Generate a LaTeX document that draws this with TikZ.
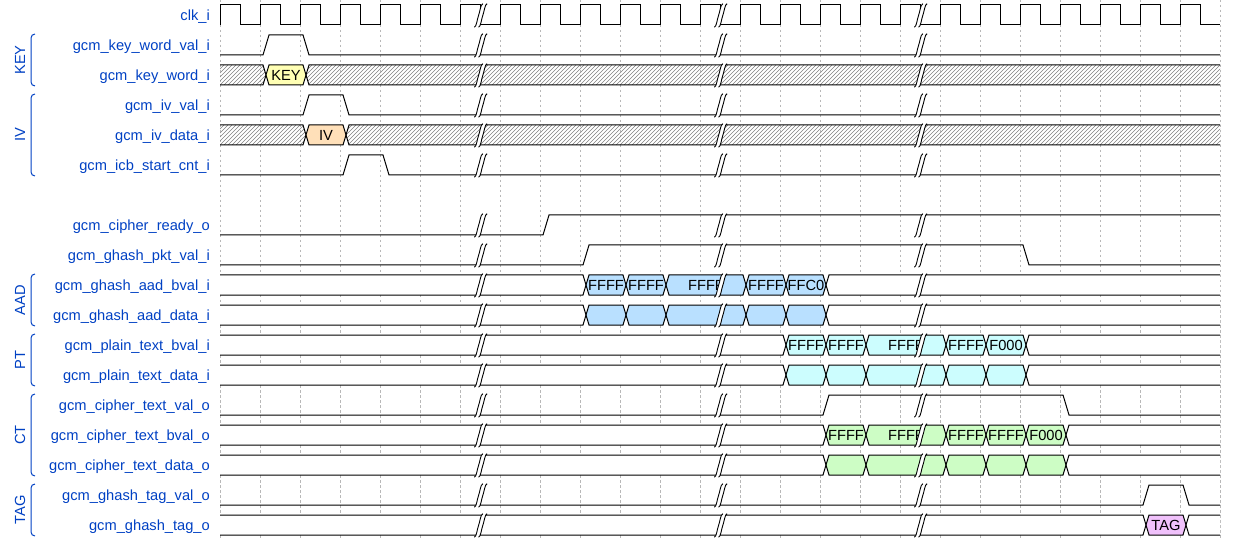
\documentclass[tikz,border=0pt]{standalone}
\usepackage{fontspec}
\setmainfont{Liberation Sans}
\definecolor{lblue}{HTML}{0041C4}
\definecolor{cyel}{HTML}{FFFFB4}
\definecolor{corg}{HTML}{FFE0B9}
\definecolor{cblu}{HTML}{B9E0FF}
\definecolor{ccya}{HTML}{CCFDFE}
\definecolor{cgrn}{HTML}{CDFDC5}
\definecolor{cpnk}{HTML}{F0C1FB}
\tikzset{
  wave/.style={draw=black, line width=1pt, line join=miter},
  gridline/.style={draw=black!28, line width=0.7pt, dash pattern=on 2.5pt off 2.5pt},
  siglabel/.style={anchor=base east, inner sep=0pt, text=lblue, font=\fontsize{14.67}{16}\selectfont},
  buslabel/.style={anchor=base, inner sep=0pt, text=black, font=\fontsize{14.67}{16}\selectfont},
  grouplabel/.style={rotate=90, inner sep=0pt, text=lblue, font=\fontsize{14.67}{16}\selectfont},
  bracket/.style={draw=lblue, line width=1pt, rounded corners=4pt},
  hatchline/.style={draw=black!50, line width=0.6pt},
  gapline/.style={draw=black, line width=0.9pt},
}
% bus cell between boundaries #2 and #3, row top #1
\newcommand\wvCell[5]{%
  \path[fill=#4] (#2+6,#1+10) -- (#2+9,#1) -- (#3+3,#1) -- (#3+6,#1+10) -- (#3+3,#1+20) -- (#2+9,#1+20) -- cycle;
  \path[wave] (#2+6,#1+10) -- (#2+9,#1) -- (#3+3,#1) -- (#3+6,#1+10) -- (#3+3,#1+20) -- (#2+9,#1+20) -- cycle;
  \node[buslabel] (bl-#1-#2) at ({(#2+#3)/2+6},#1+15.5) {#5};
}
\newcommand\wvStart[3]{%
  \path[fill=#3] (220,#1) -- (#2+3,#1) -- (#2+6,#1+10) -- (#2+3,#1+20) -- (220,#1+20) -- cycle;
  \path[wave] (220,#1) -- (#2+3,#1) -- (#2+6,#1+10) -- (#2+3,#1+20) -- (220,#1+20);
}
\newcommand\wvEnd[3]{%
  \path[fill=#3] (#2+6,#1+10) -- (#2+9,#1) -- (1220,#1) -- (1220,#1+20) -- (#2+9,#1+20) -- cycle;
  \path[wave] (1220,#1) -- (#2+9,#1) -- (#2+6,#1+10) -- (#2+9,#1+20) -- (1220,#1+20);
}
\newcommand\wvHatchStart[2]{%
  \begin{scope}
    \clip (220,#1) -- (#2+3,#1) -- (#2+6,#1+10) -- (#2+3,#1+20) -- (220,#1+20) -- cycle;
    \draw[hatchline] \foreach \q in {196,200,...,1224} {(\q,#1+20) -- (\q+20,#1)};
  \end{scope}
  \path[wave] (220,#1) -- (#2+3,#1) -- (#2+6,#1+10) -- (#2+3,#1+20) -- (220,#1+20);
}
\newcommand\wvHatchEnd[2]{%
  \begin{scope}
    \clip (#2+6,#1+10) -- (#2+9,#1) -- (1220,#1) -- (1220,#1+20) -- (#2+9,#1+20) -- cycle;
    \draw[hatchline] \foreach \q in {196,200,...,1224} {(\q,#1+20) -- (\q+20,#1)};
  \end{scope}
  \path[wave] (1220,#1) -- (#2+9,#1) -- (#2+6,#1+10) -- (#2+9,#1+20) -- (1220,#1+20);
}
\newcommand\wvGap[2]{%
  \begin{scope}[shift={(#1,#2)}]
    \fill[white] (7.06,-11.2) .. controls (4.94,-11.2) and (4.03,-2.5) .. (2.81,0.39)
      .. controls (1.59,3.28) and (0.69,12.2) .. (-1.43,12.2) -- (-5.67,12.2)
      .. controls (-3.55,12.2) and (-2.65,3.28) .. (-1.43,0.39)
      .. controls (-0.21,-2.5) and (0.70,-11.2) .. (2.82,-11.2) -- cycle;
    \draw[gapline] (7.06,-11.2) .. controls (4.94,-11.2) and (4.03,-2.5) .. (2.81,0.39)
      .. controls (1.59,3.28) and (0.69,12.2) .. (-1.43,12.2);
    \draw[gapline] (2.82,-11.2) .. controls (0.70,-11.2) and (-0.21,-2.5) .. (-1.43,0.39)
      .. controls (-2.65,3.28) and (-3.55,12.2) .. (-5.67,12.2);
  \end{scope}
}
\begin{document}
\begin{tikzpicture}[x=1pt,y=-1pt]
\useasboundingbox (0,0) rectangle (1240,540);
\fill[white] (0,0) rectangle (1240,540);
% grid
\foreach \gx in {220,260,...,1220} \draw[gridline] (\gx,0) -- (\gx,540);

% signal names
\node[siglabel] (n0) at (210,20.5) {clk\_i};
\node[siglabel] (n1) at (210,50.5) {gcm\_key\_word\_val\_i};
\node[siglabel] (n2) at (210,80.5) {gcm\_key\_word\_i};
\node[siglabel] (n3) at (210,110.5) {gcm\_iv\_val\_i};
\node[siglabel] (n4) at (210,140.5) {gcm\_iv\_data\_i};
\node[siglabel] (n5) at (210,170.5) {gcm\_icb\_start\_cnt\_i};
\node[siglabel] (n7) at (210,230.5) {gcm\_cipher\_ready\_o};
\node[siglabel] (n8) at (210,260.5) {gcm\_ghash\_pkt\_val\_i};
\node[siglabel] (n9) at (210,290.5) {gcm\_ghash\_aad\_bval\_i};
\node[siglabel] (n10) at (210,320.5) {gcm\_ghash\_aad\_data\_i};
\node[siglabel] (n11) at (210,350.5) {gcm\_plain\_text\_bval\_i};
\node[siglabel] (n12) at (210,380.5) {gcm\_plain\_text\_data\_i};
\node[siglabel] (n13) at (210,410.5) {gcm\_cipher\_text\_val\_o};
\node[siglabel] (n14) at (210,440.5) {gcm\_cipher\_text\_bval\_o};
\node[siglabel] (n15) at (210,470.5) {gcm\_cipher\_text\_data\_o};
\node[siglabel] (n16) at (210,500.5) {gcm\_ghash\_tag\_val\_o};
\node[siglabel] (n17) at (210,530.5) {gcm\_ghash\_tag\_o};

% groups
\draw[bracket] (35,34) -- (31,34) -- (31,86) -- (35,86);
\node[grouplabel] (gkey) at (20,60) {KEY};
\draw[bracket] (35,94) -- (31,94) -- (31,176) -- (35,176);
\node[grouplabel] (giv) at (20,135) {IV};
\draw[bracket] (35,274) -- (31,274) -- (31,326) -- (35,326);
\node[grouplabel] (gaad) at (20,300) {AAD};
\draw[bracket] (35,334) -- (31,334) -- (31,386) -- (35,386);
\node[grouplabel] (gpt) at (20,360) {PT};
\draw[bracket] (35,394) -- (31,394) -- (31,476) -- (35,476);
\node[grouplabel] (gct) at (20,435) {CT};
\draw[bracket] (35,484) -- (31,484) -- (31,536) -- (35,536);
\node[grouplabel] (gtag) at (20,510) {TAG};

% clock
\draw[wave] (220,25) \foreach \k in {0,...,24} { -- (220+40*\k,25) -- (220+40*\k,5) -- (240+40*\k,5) -- (240+40*\k,25) } -- (1220,25);

% single-bit signals
\draw[wave] (220,55) -- (263,55) -- (269,35) -- (303,35) -- (309,55) -- (1220,55);
\draw[wave] (220,115) -- (303,115) -- (309,95) -- (343,95) -- (349,115) -- (1220,115);
\draw[wave] (220,175) -- (343,175) -- (349,155) -- (383,155) -- (389,175) -- (1220,175);
\draw[wave] (220,235) -- (543,235) -- (549,215) -- (1220,215);
\draw[wave] (220,265) -- (583,265) -- (589,245) -- (1023,245) -- (1029,265) -- (1220,265);
\draw[wave] (220,415) -- (823,415) -- (829,395) -- (1063,395) -- (1069,415) -- (1220,415);
\draw[wave] (220,505) -- (1143,505) -- (1149,485) -- (1183,485) -- (1189,505) -- (1220,505);

% KEY / IV
\wvHatchStart{65}{260}
\wvCell{65}{260}{300}{cyel}{KEY}
\wvHatchEnd{65}{300}
\wvHatchStart{125}{300}
\wvCell{125}{300}{340}{corg}{IV}
\wvHatchEnd{125}{340}

% AAD
\wvStart{275}{580}{white}
\wvCell{275}{580}{620}{cblu}{FFFF}
\wvCell{275}{620}{660}{cblu}{FFFF}
\wvCell{275}{660}{740}{cblu}{FFFF}
\wvCell{275}{740}{780}{cblu}{FFFF}
\wvCell{275}{780}{820}{cblu}{FFC0}
\wvEnd{275}{820}{white}
\wvStart{305}{580}{white}
\wvCell{305}{580}{620}{cblu}{}
\wvCell{305}{620}{660}{cblu}{}
\wvCell{305}{660}{740}{cblu}{}
\wvCell{305}{740}{780}{cblu}{}
\wvCell{305}{780}{820}{cblu}{}
\wvEnd{305}{820}{white}

% PT
\wvStart{335}{780}{white}
\wvCell{335}{780}{820}{ccya}{FFFF}
\wvCell{335}{820}{860}{ccya}{FFFF}
\wvCell{335}{860}{940}{ccya}{FFFF}
\wvCell{335}{940}{980}{ccya}{FFFF}
\wvCell{335}{980}{1020}{ccya}{F000}
\wvEnd{335}{1020}{white}
\wvStart{365}{780}{white}
\wvCell{365}{780}{820}{ccya}{}
\wvCell{365}{820}{860}{ccya}{}
\wvCell{365}{860}{940}{ccya}{}
\wvCell{365}{940}{980}{ccya}{}
\wvCell{365}{980}{1020}{ccya}{}
\wvEnd{365}{1020}{white}

% CT
\wvStart{425}{820}{white}
\wvCell{425}{820}{860}{cgrn}{FFFF}
\wvCell{425}{860}{940}{cgrn}{FFFF}
\wvCell{425}{940}{980}{cgrn}{FFFF}
\wvCell{425}{980}{1020}{cgrn}{FFFF}
\wvCell{425}{1020}{1060}{cgrn}{F000}
\wvEnd{425}{1060}{white}
\wvStart{455}{820}{white}
\wvCell{455}{820}{860}{cgrn}{}
\wvCell{455}{860}{940}{cgrn}{}
\wvCell{455}{940}{980}{cgrn}{}
\wvCell{455}{980}{1020}{cgrn}{}
\wvCell{455}{1020}{1060}{cgrn}{}
\wvEnd{455}{1060}{white}

% TAG
\wvStart{515}{1140}{white}
\wvCell{515}{1140}{1180}{cpnk}{TAG}
\wvEnd{515}{1180}{white}

% gaps
\foreach \r in {0,1,2,3,4,5,7,8,9,10,11,12,13,14,15,16,17}
  \foreach \gx in {480,720,920}
    \wvGap{\gx}{15+30*\r};
\end{tikzpicture}
\end{document}
